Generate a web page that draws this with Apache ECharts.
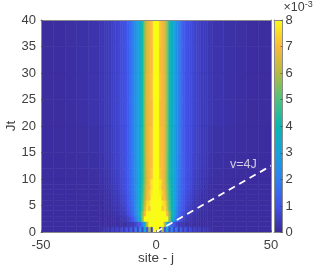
<!DOCTYPE html>
<html><head><meta charset="utf-8">
<style>html,body{margin:0;padding:0;background:#fff}#c{width:316px;height:269px;filter:blur(0.4px)}</style>
<script src="https://cdn.jsdelivr.net/npm/echarts@6/dist/echarts.min.js"></script>
</head><body><div id="c"></div>
<script>
// distance from centre |j|: start and end of each site bin
const siteStart=[0,1,2,3,4,5,6,7,8,9,10,11,12,13,14,15,16,17,18,19,20,21,22,23,24,25,30,35,40,45];
const siteEnd  =[1,2,3,4,5,6,7,8,9,10,11,12,13,14,15,16,17,18,19,20,21,22,23,24,25,30,35,40,45,51];
// time bands, Jt
const timeStart=[0,1,2,3,4,5,6,7,8,9,10,12,15,20,25,30,35];
const timeEnd  =[1,2,3,4,5,6,7,8,9,10,12,15,20,25,30,35,40];
// correlation x 1000 for each time band, one value per site bin
const t00=[8.5,8.2,0.5,6.0,1.0,3.4,0.7,2.4,0.5,1.8,0.45,1.3,0.4,1.0,0.35,0.8,0.3,0.65,0.25,0.5,0.22,0.4,0.2,0.3,0.15,0.1,0.08,0.08,0.08,0.08];
const t01=[8.6,8.6,8.5,8.2,6.0,3.2,2.0,1.3,0.9,0.6,0.45,0.35,0.28,0.22,0.18,0.15,0.13,0.12,0.11,0.1,0.1,0.1,0.1,0.09,0.09,0.08,0.08,0.08,0.08,0.08];
const t02=[8.8,8.8,8.7,8.6,8.5,8.0,5.6,3.8,2.6,1.8,1.2,0.85,0.6,0.45,0.35,0.28,0.22,0.18,0.15,0.13,0.12,0.11,0.1,0.1,0.09,0.09,0.08,0.08,0.08,0.08];
const t03=[8.8,8.7,8.5,8.2,8.0,7.0,5.6,4.2,3.0,2.2,1.6,1.15,0.85,0.65,0.5,0.38,0.3,0.25,0.2,0.16,0.14,0.12,0.1,0.1,0.09,0.09,0.08,0.08,0.08,0.08];
const t04=[8.6,8.5,8.2,7.2,7.6,6.4,5.0,3.9,3.0,2.3,1.7,1.3,1.0,0.78,0.6,0.48,0.38,0.3,0.25,0.2,0.17,0.14,0.12,0.1,0.1,0.09,0.08,0.08,0.08,0.08];
const t05=[8.6,8.5,8.2,7.7,7.4,6.1,4.9,3.9,3.0,2.4,1.8,1.4,1.1,0.85,0.68,0.55,0.44,0.36,0.3,0.25,0.2,0.17,0.14,0.12,0.11,0.09,0.08,0.08,0.08,0.08];
const t06=[8.6,8.4,8.0,7.1,7.0,5.8,4.7,3.8,3.0,2.4,1.85,1.45,1.15,0.92,0.75,0.6,0.5,0.41,0.34,0.28,0.23,0.19,0.16,0.14,0.12,0.1,0.09,0.08,0.08,0.08];
const t07=[8.6,8.4,7.8,7.3,6.8,5.7,4.6,3.7,3.0,2.4,1.9,1.5,1.2,0.98,0.8,0.66,0.55,0.46,0.38,0.31,0.26,0.22,0.18,0.15,0.13,0.1,0.09,0.08,0.08,0.08];
const t08=[8.6,8.4,7.6,7.0,6.7,5.6,4.5,3.7,3.0,2.4,1.9,1.5,1.22,1.0,0.84,0.7,0.58,0.5,0.42,0.35,0.29,0.24,0.2,0.17,0.15,0.11,0.09,0.08,0.08,0.08];
const t09=[8.6,8.4,7.7,7.1,6.5,5.5,4.4,3.6,3.0,2.4,1.95,1.5,1.24,1.02,0.86,0.74,0.62,0.53,0.45,0.38,0.32,0.27,0.23,0.2,0.17,0.12,0.1,0.08,0.08,0.08];
const t10=[8.6,8.4,7.2,7.0,6.5,5.5,4.3,3.6,3.0,2.45,2.0,1.55,1.25,1.04,0.88,0.76,0.65,0.56,0.48,0.42,0.36,0.3,0.26,0.22,0.19,0.14,0.1,0.09,0.08,0.08];
const t12=[8.6,8.4,7.1,7.0,6.6,5.5,4.3,3.5,3.0,2.5,2.05,1.6,1.25,1.05,0.9,0.78,0.68,0.6,0.52,0.46,0.4,0.34,0.3,0.26,0.22,0.16,0.12,0.09,0.08,0.08];
const t15=[8.6,8.5,7.1,7.0,6.6,5.6,4.3,3.5,3.0,2.5,2.1,1.6,1.25,1.05,0.9,0.8,0.7,0.62,0.55,0.49,0.43,0.38,0.34,0.3,0.26,0.2,0.14,0.1,0.09,0.08];
const t20=[8.6,8.5,7.0,6.9,6.6,5.6,4.2,3.5,3.0,2.5,2.1,1.6,1.25,1.05,0.92,0.82,0.73,0.65,0.58,0.52,0.46,0.42,0.38,0.34,0.3,0.24,0.17,0.12,0.09,0.09];
const t25=[8.6,8.5,7.1,6.9,6.6,5.6,4.2,3.5,3.0,2.5,2.1,1.6,1.25,1.05,0.92,0.82,0.73,0.65,0.58,0.52,0.47,0.43,0.39,0.35,0.31,0.25,0.18,0.13,0.1,0.09];
const t30=[8.6,8.5,7.0,6.9,6.5,5.6,4.2,3.5,3.0,2.5,2.1,1.6,1.25,1.06,0.93,0.83,0.74,0.66,0.59,0.53,0.48,0.44,0.4,0.36,0.32,0.26,0.19,0.13,0.1,0.09];
const t35=[8.6,8.5,7.1,6.9,6.5,5.6,4.2,3.5,3.0,2.5,2.1,1.6,1.25,1.06,0.93,0.83,0.74,0.66,0.59,0.53,0.48,0.44,0.4,0.36,0.32,0.26,0.19,0.14,0.1,0.09];
const bands=[t00,t01,t02,t03,t04,t05,t06,t07,t08,t09,t10,t12,t15,t20,t25,t30,t35];
const frontSite=[0,50];
const frontTime=[0,12.5];
const frontLabel='v=4J';
const labelAt=[38,12.8];
const parula=['#3b2a98','#4152ea','#2d80f0','#16a2dc','#08b7b0','#4cc27e','#b4bc3f','#fbb93a','#f9fb15'];

const cells=[];
bands.forEach((row,b)=>row.forEach((v,s)=>{
  cells.push([siteStart[s]-0.5,siteEnd[s]-0.5,timeStart[b],timeEnd[b],v]);
  cells.push([-(siteEnd[s]-0.5),-(siteStart[s]-0.5),timeStart[b],timeEnd[b],v]);
}));
const ink='#404040',rim='#8a8a8a',fam='"Liberation Sans",Arial,sans-serif';
const txt={color:ink,fontSize:13,fontFamily:fam};
const line={show:true,onZero:false,lineStyle:{color:rim,width:1}};
const tick={inside:true,length:2,lineStyle:{color:ink,width:.6}};
const bare={axisLine:line,axisTick:{show:false},axisLabel:{show:false},splitLine:{show:false},z:5};
const chart=echarts.init(document.getElementById('c'),null,{renderer:'canvas'});
chart.setOption({
  animation:false,
  grid:[{left:41,top:20,width:230,height:212,outerBoundsMode:'none'},{left:274,top:20,width:8.5,height:212.5,outerBoundsMode:'none'}],
  visualMap:{show:false,min:0,max:8,dimension:4,seriesIndex:0,inRange:{color:parula}},
  xAxis:[
    {type:'value',gridIndex:0,min:-50,max:50,interval:50,name:'site - j',nameLocation:'middle',nameGap:19,nameMoveOverlap:false,nameTextStyle:{...txt,fontSize:13.5},
     axisLine:line,axisTick:tick,axisLabel:{...txt,margin:7,showMinLabel:true,showMaxLabel:true},splitLine:{show:false},z:5},
    {type:'value',gridIndex:0,position:'top',min:-50,max:50,...bare},
    {type:'value',gridIndex:1,min:0,max:1,...bare},
    {type:'value',gridIndex:1,position:'top',min:0,max:1,...bare}
  ],
  yAxis:[
    {type:'value',gridIndex:0,min:0,max:40,interval:5,name:'Jt',nameLocation:'middle',nameGap:23,nameMoveOverlap:false,nameTextStyle:{...txt,fontSize:13.5},
     axisLine:line,axisTick:tick,axisLabel:{...txt,margin:5,showMinLabel:true,showMaxLabel:true},splitLine:{show:false},z:5},
    {type:'value',gridIndex:0,position:'right',min:0,max:40,...bare},
    {type:'value',gridIndex:1,position:'right',min:0,max:8,interval:1,name:'×10{s|-3}',nameLocation:'end',nameGap:2,
     nameTextStyle:{...txt,fontSize:12.5,align:'left',padding:[0,0,0,1],rich:{s:{fontSize:9,color:ink,fontFamily:fam,verticalAlign:'top',padding:[0,0,5,0]}}},
     axisLine:line,axisTick:tick,axisLabel:{...txt,margin:3,showMinLabel:true,showMaxLabel:true},splitLine:{show:false},z:5},
    {type:'value',gridIndex:1,position:'left',min:0,max:8,...bare}
  ],
  series:[
    {type:'custom',xAxisIndex:0,yAxisIndex:0,coordinateSystem:'cartesian2d',data:cells,silent:true,clip:true,
     encode:{x:[0,1],y:[2,3]},
     renderItem(p,api){
       const a=api.coord([api.value(0),api.value(3)]),b=api.coord([api.value(1),api.value(2)]);
       const c=api.visual('color');
       const r=echarts.graphic.clipRectByRect({x:a[0],y:a[1],width:b[0]-a[0],height:b[1]-a[1]},
         {x:p.coordSys.x,y:p.coordSys.y,width:p.coordSys.width,height:p.coordSys.height});
       return r&&{type:'rect',shape:r,style:{fill:c,stroke:c,lineWidth:.6}};
     }},
    {type:'line',xAxisIndex:0,yAxisIndex:0,data:frontSite.map((s,i)=>[s,frontTime[i]]),showSymbol:false,silent:true,z:4,
     lineStyle:{color:'#fff',width:1.8,type:[7,5]}},
    {type:'scatter',xAxisIndex:0,yAxisIndex:0,data:[labelAt],symbolSize:0,silent:true,z:4,
     label:{show:true,position:'inside',formatter:frontLabel,color:'#f2f2f2',fontSize:12.5,fontFamily:fam}},
    {type:'custom',xAxisIndex:2,yAxisIndex:2,coordinateSystem:'cartesian2d',data:[[0,1,0,8]],silent:true,
     renderItem(p,api){
       const a=api.coord([api.value(0),api.value(3)]),b=api.coord([api.value(1),api.value(2)]);
       return {type:'rect',shape:{x:a[0],y:a[1],width:b[0]-a[0],height:b[1]-a[1]},
         style:{fill:new echarts.graphic.LinearGradient(0,1,0,0,parula.map((c,i)=>({offset:i/(parula.length-1),color:c})))}};
     }}
  ]
});
</script></body></html>
